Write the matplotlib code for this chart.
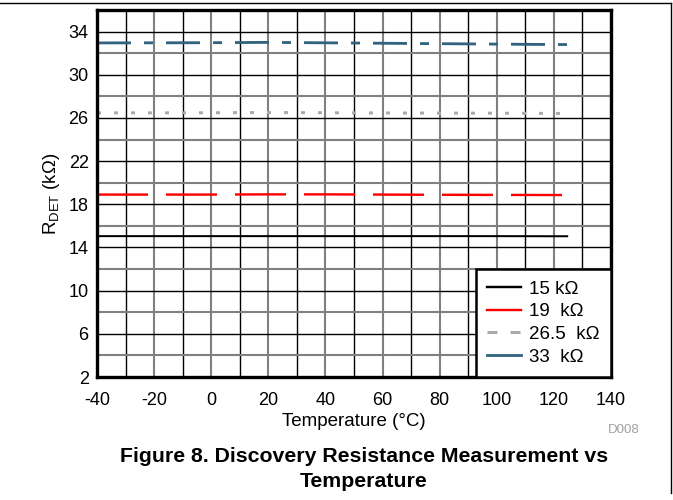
import matplotlib
matplotlib.use("Agg")
import matplotlib.pyplot as plt
from matplotlib.ticker import MultipleLocator
from matplotlib.lines import Line2D

# ---------------- data ----------------
temps = [-40, -20, 0, 20, 40, 60, 80, 100, 120, 125]
r15 = [15.05, 15.05, 15.05, 15.05, 15.05, 15.05, 15.05, 15.05, 15.04, 15.04]
r19 = [18.9, 18.9, 18.9, 18.92, 18.92, 18.9, 18.88, 18.87, 18.86, 18.86]
r26 = [26.47, 26.47, 26.48, 26.5, 26.48, 26.46, 26.45, 26.44, 26.42, 26.42]
r33 = [32.95, 32.96, 32.97, 33.0, 32.96, 32.92, 32.88, 32.84, 32.8, 32.8]
labels = ["15 k\u03a9", "19  k\u03a9", "26.5  k\u03a9", "33  k\u03a9"]
xticks = [-40, -20, 0, 20, 40, 60, 80, 100, 120, 140]
yticks = [2, 6, 10, 14, 18, 22, 26, 30, 34]

base = "Liberation Sans"
plt.rcParams["font.family"] = [base, "DejaVu Sans"]
plt.rcParams["mathtext.fontset"] = "custom"
plt.rcParams["mathtext.rm"] = base
plt.rcParams["mathtext.it"] = base
plt.rcParams["lines.scale_dashes"] = False
plt.rcParams["axes.unicode_minus"] = False

fig = plt.figure(figsize=(6.73, 5.0), dpi=100)
ax = fig.add_axes([97 / 673, 1 - 377 / 500, (611 - 97) / 673, (377 - 10) / 500])

pt = 72 / 100.0  # px -> pt
ax.plot(temps, r15, color="black", lw=2.0 * pt, solid_capstyle="butt", zorder=5)
ax.plot(temps, r19, color="#FF0000", lw=2.4 * pt, dashes=(51 * pt, 18 * pt), zorder=5)
ax.plot(temps, r26, color="#AAAAAA", lw=3.0 * pt, dashes=(4 * pt, 13 * pt), zorder=5)
ax.plot(temps, r33, color="#31627E", lw=2.8 * pt, dashes=(34 * pt, 13 * pt, 9 * pt, 13 * pt), zorder=5)

ax.set_xlim(-40, 140)
ax.set_ylim(2, 36)
ax.set_xticks(xticks)
ax.set_yticks(yticks)
ax.xaxis.set_minor_locator(MultipleLocator(10))
ax.yaxis.set_minor_locator(MultipleLocator(2))
ax.tick_params(which="both", length=0)
ax.tick_params(axis="x", pad=11, labelsize=13)
ax.tick_params(axis="y", pad=6, labelsize=13)

ax.xaxis.grid(True, which="major", color="#808080", lw=1.5)
ax.xaxis.grid(True, which="minor", color="black", lw=1.0)
ax.yaxis.grid(True, which="major", color="black", lw=1.0)
ax.yaxis.grid(True, which="minor", color="#808080", lw=1.5)
ax.set_axisbelow(True)
for s in ax.spines.values():
    s.set_linewidth(2.4)
    s.set_zorder(10)

ax.set_xlabel("Temperature (\u00b0C)", fontsize=13.5, labelpad=3)
ax.set_ylabel("R$_{\\mathrm{DET}}$ (k\u03a9)", fontsize=13.5, labelpad=5)

handles = [
    Line2D([], [], color="black", lw=2.4 * pt),
    Line2D([], [], color="#FF0000", lw=2.4 * pt),
    Line2D([], [], color="#AAAAAA", lw=3.0 * pt, dashes=(10 * pt, 13 * pt)),
    Line2D([], [], color="#31627E", lw=2.8 * pt),
]
leg = ax.legend(handles, labels, loc="lower right", bbox_to_anchor=(1, 0),
                borderaxespad=0, fancybox=False, framealpha=1, edgecolor="black",
                fontsize=13.5, handlelength=1.8, handletextpad=0.45,
                labelspacing=0.3, borderpad=0.6)
leg.get_frame().set_linewidth(1.8)
leg.set_zorder(20)

fig.text(640 / 673, 1 - 430 / 500, "D008", color="#A0A0A0", fontsize=9.5,
         ha="right", va="center")
fig.text(364 / 673, 1 - 469 / 500, "Figure 8. Discovery Resistance Measurement vs\nTemperature",
         ha="center", va="center", fontsize=15.3, fontweight="bold",
         linespacing=1.35)

# figure frame lines (top and right)
fig.add_artist(Line2D([0, 671 / 673], [1 - 3 / 500, 1 - 3 / 500], color="black", lw=1.0,
                      transform=fig.transFigure))
fig.add_artist(Line2D([671 / 673, 671 / 673], [1 - 3 / 500, 1 - 493 / 500], color="black",
                      lw=1.0, transform=fig.transFigure))

fig.savefig("out.png", dpi=100)
